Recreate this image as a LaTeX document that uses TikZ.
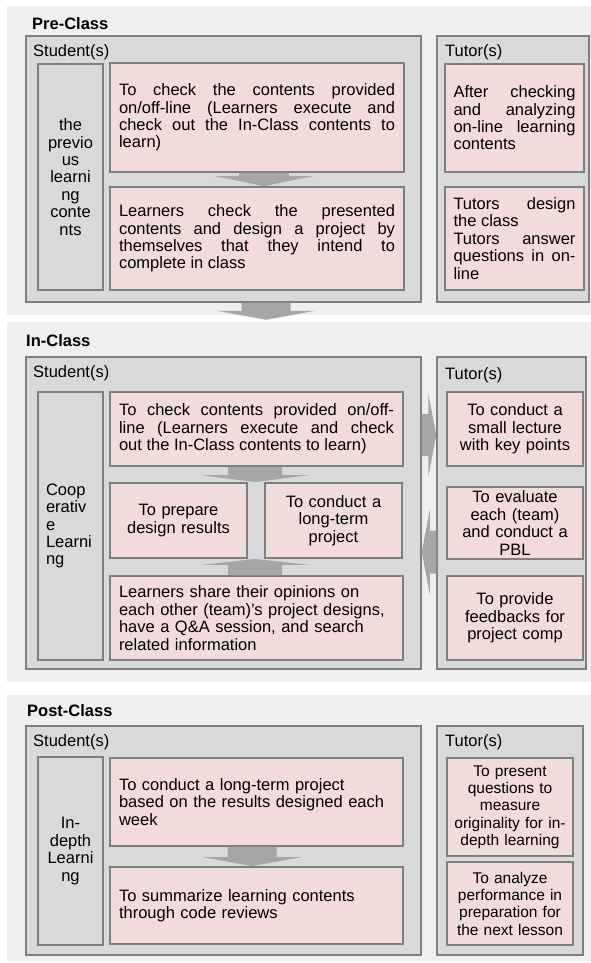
\documentclass[tikz,border=0pt]{standalone}
\usepackage{fontspec}
\setmainfont{Liberation Sans}
\usepackage{xcolor}
\usetikzlibrary{calc}
\newcommand{\bodyfont}{\fontsize{16.5pt}{17.4pt}\selectfont}
\newcommand{\smallfont}{\fontsize{15.5pt}{17.3pt}\selectfont}
\tolerance=10000
\hyphenpenalty=10000
\exhyphenpenalty=10000

\begin{document}
\begin{tikzpicture}[x=1pt,y=-1pt,
  phasebg/.style={fill=phasegray,draw=none,inner sep=0pt,minimum width=584},
  phasetitle/.style={anchor=base west,inner sep=0pt,font=\bodyfont\bfseries},
  lane/.style={draw=framegray,line width=1.5pt,fill=lanegray,inner sep=0pt},
  lanelabel/.style={anchor=base west,inner sep=0pt,font=\bodyfont},
  sidebox/.style={draw=framegray,line width=1.5pt,fill=lanegray,inner sep=0pt,align=center,font=\bodyfont},
  task/.style={draw=framegray,line width=1.8pt,fill=taskpink,inner xsep=9pt,inner ysep=0pt,font=\bodyfont,align=justify},
  blockarrow/.style n args={3}{fill=arrowgray,draw=none,
    to path={($(\tikztotarget)!#3!(\tikztostart)$) coordinate (ahead)
      ($(\tikztostart)!#1!90:(\tikztotarget)$)
      -- ($(ahead)!#1!90:(\tikztotarget)$)
      -- ($(ahead)!#2!90:(\tikztotarget)$)
      -- (\tikztotarget)
      -- ($(ahead)!#2!-90:(\tikztotarget)$)
      -- ($(ahead)!#1!-90:(\tikztotarget)$)
      -- ($(\tikztostart)!#1!-90:(\tikztotarget)$) -- cycle}}]
\definecolor{phasegray}{HTML}{EFEFEF}
\definecolor{lanegray}{HTML}{D9D9D9}
\definecolor{framegray}{HTML}{7F7F7F}
\definecolor{taskpink}{HTML}{F2DCDB}
\definecolor{arrowgray}{HTML}{A6A6A6}
\useasboundingbox (0,0) rectangle (591,963);

% the three phases
\foreach \nm/\ttl/\ya/\yb/\tx/\ty in {phaseA/Pre-Class/6/315/32/29.3,phaseB/In-Class/322/682/26/346.5,phaseC/Post-Class/695/961/27/716.5}
  { \node [phasebg,minimum height={\yb-\ya}] (\nm) at (299,{(\ya+\yb)/2}) {};
    \node [phasetitle] (\nm title) at (\tx,\ty) {\ttl}; }

% lanes
\node [lane,minimum width=395,minimum height=266] (stuA) at (223.5,169) {};
\node [lane,minimum width=152,minimum height=266] (tutA) at (513,169) {};
\node [lane,minimum width=395,minimum height=312] (stuB) at (223.5,513) {};
\node [lane,minimum width=149,minimum height=312] (tutB) at (511.5,513) {};
\node [lane,minimum width=395,minimum height=229] (stuC) at (223.5,840.5) {};
\node [lane,minimum width=146,minimum height=229] (tutC) at (510,840.5) {};
\foreach \y/\yt in {57/57,377/379,746/746}
  { \node [lanelabel] (stulbl\y) at (33,\y) {Student(s)};
    \node [lanelabel] (tutlbl\y) at (445,\yt) {Tutor(s)}; }

% Pre-Class
\node [sidebox,minimum width=65,minimum height=226] (sideA) at (70.5,177) {the\\previo\\us\\learni\\ng\\conte\\nts};
\node [task,text width=276,minimum height=109] (preS1) at (257,117.5)
  {To check the contents provided\linebreak on/off-line (Learners execute and\linebreak check out the In-Class contents to\linebreak learn)};
\node [task,text width=276,minimum height=103] (preS2) at (257,238.5)
  {Learners check the presented\linebreak contents and design a project by\linebreak themselves that they intend to\linebreak complete in class};
\node [task,inner xsep=8.5pt,text width=122,minimum height=108] (preT1) at (514.5,118)
  {After checking\linebreak and analyzing\linebreak on-line learning\linebreak contents};
\node [task,inner xsep=8.5pt,text width=122,minimum height=103] (preT2) at (514.5,238.5)
  {Tutors design\linebreak the class\\Tutors answer\linebreak questions in on-\linebreak line};

% In-Class
\node [sidebox,inner xsep=8pt,text width=49,align=left,minimum height=268] (sideB) at (70.5,526) {Coop\\erativ\\e\\Learni\\ng};
\node [task,text width=275,minimum height=74] (inS1) at (256.5,429)
  {To check contents provided on/off-\linebreak line (Learners execute and check\linebreak out the In-Class contents to learn)};
\node [task,text width=119,align=center,minimum height=75] (inS2) at (178.5,520.5) {To prepare\\design results};
\node [task,text width=119,align=center,minimum height=75] (inS3) at (333.5,520.5) {To conduct a\\long-term\\project};
\node [task,text width=275,align=left,minimum height=84] (inS4) at (256.5,618)
  {Learners share their opinions on\\each other (team)'s project designs,\\have a Q\&A session, and search\\related information};
\node [task,text width=118,align=center,minimum height=74] (inT1) at (515,429) {To conduct a\\small lecture\\with key points};
\node [task,text width=118,align=center,minimum height=72] (inT2) at (515,523) {To evaluate\\each (team)\\and conduct a\\PBL};
\node [task,text width=118,align=center,minimum height=84] (inT3) at (515,618) {To provide\\feedbacks for\\project comp};

% Post-Class
\node [sidebox,minimum width=65,minimum height=188] (sideC) at (70.5,851) {In-\\depth\\Learni\\ng};
\node [task,text width=275,align=left,minimum height=88] (postS1) at (256.5,802)
  {To conduct a long-term project\\based on the results designed each\\week};
\node [task,text width=275,align=left,minimum height=77] (postS2) at (256.5,905.5)
  {To summarize learning contents\\through code reviews};
\node [task,inner xsep=5pt,text width=116,align=center,font=\smallfont,minimum height=98] (postT1) at (510,807)
  {To present\\questions to\\measure\\originality for in-\\depth learning};
\node [task,inner xsep=5pt,text width=116,align=center,font=\smallfont,minimum height=83] (postT2) at (510,903.5)
  {To analyze\\performance in\\preparation for\\the next lesson};

% flow arrows
\path [blockarrow={25pt}{49pt}{10pt}] ($(preS1.south)+(7,0)$) to ($(preS2.north)+(7,0)$);
\path [blockarrow={24.5pt}{49pt}{9pt}] ($(stuA.south)+(42.5,0)$) to ($(phaseB.north)+(-33,-2)$);
\path [blockarrow={27pt}{54pt}{7pt}] ($(inS1.south)+(-1.5,0)$) to ($(inS2.north -| inS1.south)+(-1.5,0)$);
\path [blockarrow={27pt}{54pt}{6pt}] ($(inS4.north)+(-1.5,0)$) to ($(inS2.south -| inS4.north)+(-1.5,0)$);
\path [blockarrow={21pt}{42pt}{8pt}] ($(stuB.east |- inT1.west)+(0,6)$) to ($(tutB.west |- inT1.west)+(0,6)$);
\path [blockarrow={21.5pt}{42pt}{8pt}] ($(tutB.west |- inT2.west)+(0,29)$) to ($(stuB.east |- inT2.west)+(0,29)$);
\path [blockarrow={24.5pt}{49.5pt}{9pt}] ($(postS1.south)+(-4.5,0)$) to ($(postS2.north)+(-4.5,0)$);
\end{tikzpicture}
\end{document}
